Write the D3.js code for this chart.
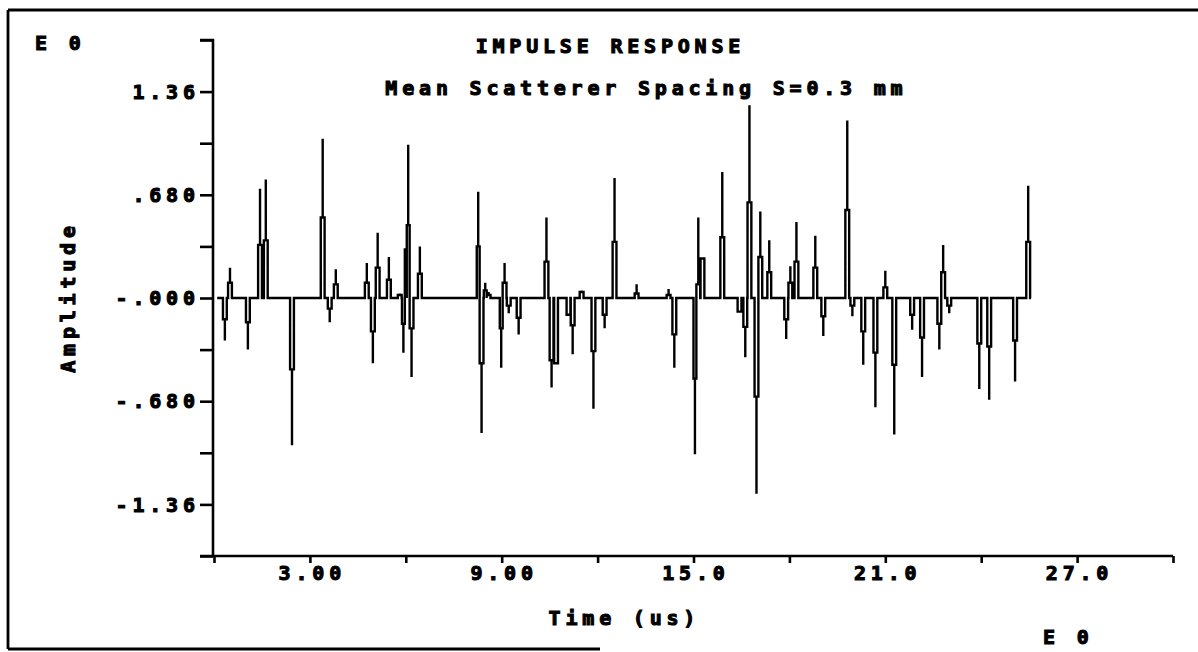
<!DOCTYPE html>
<html>
<head>
<meta charset="utf-8">
<script src="https://cdn.jsdelivr.net/npm/d3@7"></script>
<style>
  html, body { margin: 0; padding: 0; background: #fff; }
  svg { display: block; }
  text { font-family: "DejaVu Sans Mono", "Liberation Mono", monospace; font-weight: bold; fill: #000; stroke: #000; stroke-width: 1.1px; }
</style>
</head>
<body>
<svg id="chart" width="1198" height="652"></svg>
<script>
// ---- data ----
const title = "IMPULSE RESPONSE";
const subtitle = "Mean Scatterer Spacing S=0.3 mm";
const xTitle = "Time (us)";
const yTitle = "Amplitude";
const exponentLabel = "E 0";

// time (us) of each scatterer echo
const times = [0.28, 0.44, 1.00, 1.38, 1.56, 2.38, 3.34, 3.56, 3.75, 4.72,
  4.91, 5.06, 5.41, 5.75, 5.88, 5.97, 6.03, 6.12, 6.38, 8.22,
  8.31, 8.44, 8.53, 8.94, 9.03, 9.16, 9.47, 10.34, 10.50, 10.64,
  11.03, 11.16, 11.44, 11.81, 12.16, 12.47, 13.16, 14.16, 14.34, 15.00,
  15.09, 15.22, 15.84, 16.38, 16.56, 16.69, 16.91, 17.03, 17.31, 17.84,
  17.97, 18.16, 18.75, 19.00, 19.75, 19.91, 20.25, 20.63, 20.94, 21.22,
  21.78, 22.09, 22.63, 22.75, 22.94, 23.88, 24.19, 25.00, 25.41];
// sample (shoulder) amplitude of each echo
const shoulders = [-0.14, 0.10, -0.16, 0.35, 0.38, -0.47, 0.53, -0.07, 0.09, 0.10,
  -0.22, 0.20, 0.12, 0.02, -0.17, 0.32, 0.48, -0.20, 0.16, 0.34,
  -0.43, 0.05, 0.02, -0.20, 0.10, -0.05, -0.13, 0.24, -0.41, -0.43,
  -0.11, -0.18, 0.04, -0.35, -0.11, 0.37, 0.03, 0.02, -0.24, -0.53,
  0.09, 0.26, 0.40, -0.09, -0.19, 0.63, -0.65, 0.27, 0.17, -0.14,
  0.10, 0.24, 0.20, -0.12, 0.58, -0.05, -0.22, -0.36, 0.07, -0.44,
  -0.11, -0.26, -0.17, 0.17, -0.05, -0.30, -0.32, -0.28, 0.37];
// peak (spike) amplitude of each echo
const peaks = [-0.28, 0.20, -0.34, 0.72, 0.78, -0.97, 1.05, -0.16, 0.19, 0.23,
  -0.43, 0.43, 0.27, 0.03, -0.36, 0.32, 1.01, -0.52, 0.34, 0.70,
  -0.89, 0.10, 0.04, -0.46, 0.23, -0.10, -0.24, 0.53, -0.59, -0.43,
  -0.11, -0.37, 0.05, -0.73, -0.20, 0.79, 0.09, 0.06, -0.46, -1.03,
  0.53, 0.26, 0.83, -0.09, -0.39, 1.27, -1.29, 0.57, 0.38, -0.27,
  0.21, 0.50, 0.41, -0.25, 1.17, -0.12, -0.44, -0.72, 0.18, -0.90,
  -0.21, -0.52, -0.34, 0.35, -0.10, -0.60, -0.67, -0.55, 0.74];
const traceStart = 0.1;
const traceEnd = 25.56;

const yTicks = [-1.70, -1.36, -1.02, -0.68, -0.34, 0, 0.34, 0.68, 1.02, 1.36, 1.70];
const yLabelValues = [1.36, 0.68, 0, -0.68, -1.36];
const yLabels = ["1.36", ".680", "-.000", "-.680", "-1.36"];
const xTicks = [0, 3, 6, 9, 12, 15, 18, 21, 24, 27, 30];
const xLabelValues = [3, 9, 15, 21, 27];
const xLabels = ["3.00", "9.00", "15.0", "21.0", "27.0"];

// ---- drawing ----
const svg = d3.select("#chart");
const x = d3.scaleLinear().domain([0, 30]).range([214, 1173]);
const y = d3.scaleLinear().domain([-1.7, 1.7]).range([556, 40]);

const LS = 4.8; // letter spacing
const FS = 20;

// frame
const frame = svg.append("g").attr("stroke", "#000").attr("stroke-width", 2.8).attr("fill", "none");
frame.append("line").attr("x1", 8).attr("y1", 10).attr("x2", 1198).attr("y2", 10);
frame.append("line").attr("x1", 8).attr("y1", 10).attr("x2", 8).attr("y2", 649);
frame.append("line").attr("x1", 8).attr("y1", 649).attr("x2", 600).attr("y2", 649);

// axes
const yAxis = d3.axisLeft(y).tickValues(yTicks).tickSize(13).tickFormat("");
const gy = svg.append("g").attr("transform", `translate(${x(0) - 1},0)`).call(yAxis);
gy.select(".domain").attr("d", `M-13,${y(1.7)}H0V${y(-1.7)}H-13`);
gy.selectAll("path,line").attr("stroke", "#000").attr("stroke-width", 2.6);

const xAxis = d3.axisBottom(x).tickValues(xTicks).tickSize(7).tickFormat("");
const gx = svg.append("g").attr("transform", `translate(0,${y(-1.7)})`).call(xAxis);
gx.select(".domain").attr("d", `M${x(0) - 1},0H${x(30)}`);
gx.selectAll("path,line").attr("stroke", "#000").attr("stroke-width", 2.6);

// tick labels
svg.append("g").selectAll("text").data(yLabelValues).join("text")
  .attr("x", 195 + LS).attr("y", d => y(d)).attr("dy", "0.36em")
  .attr("text-anchor", "end").attr("font-size", FS).attr("letter-spacing", LS)
  .text((d, i) => yLabels[i]);

svg.append("g").selectAll("text").data(xLabelValues).join("text")
  .attr("x", d => x(d) + LS / 2).attr("y", 580)
  .attr("text-anchor", "middle").attr("font-size", FS).attr("letter-spacing", LS)
  .text((d, i) => xLabels[i]);

// titles
svg.append("text").attr("x", 608 + LS / 2).attr("y", 53).attr("text-anchor", "middle")
  .attr("font-size", FS).attr("letter-spacing", LS).text(title);
svg.append("text").attr("x", 644 + LS / 2).attr("y", 95).attr("text-anchor", "middle")
  .attr("font-size", FS).attr("letter-spacing", LS).text(subtitle);
svg.append("text").attr("x", 622 + LS / 2).attr("y", 625).attr("text-anchor", "middle")
  .attr("font-size", FS).attr("letter-spacing", LS).text(xTitle);
svg.append("text").attr("transform", "translate(75,297) rotate(-90)").attr("text-anchor", "middle")
  .attr("font-size", FS).attr("letter-spacing", LS).text(yTitle);
svg.append("text").attr("x", 35).attr("y", 50)
  .attr("font-size", FS).attr("letter-spacing", LS).text(exponentLabel);
svg.append("text").attr("x", 1043).attr("y", 644)
  .attr("font-size", FS).attr("letter-spacing", LS).text(exponentLabel);

// impulse response trace
const w = 0.12;
const pts = [[traceStart, 0]];
times.forEach((t, i) => {
  const next = i + 1 < times.length ? times[i + 1] : traceEnd;
  const end = Math.min(t + w, next);
  const mid = t + (end - t) / 2;
  pts.push([t, 0], [t, shoulders[i]], [mid, shoulders[i]], [mid, peaks[i]],
           [mid, shoulders[i]], [end, shoulders[i]], [end, 0]);
});
pts.push([traceEnd, 0]);

const line = d3.line().x(d => x(d[0])).y(d => y(d[1]));
svg.append("path").datum(pts).attr("d", line)
  .attr("fill", "none").attr("stroke", "#000").attr("stroke-width", 2.4)
  .attr("stroke-linejoin", "miter");
</script>
</body>
</html>
